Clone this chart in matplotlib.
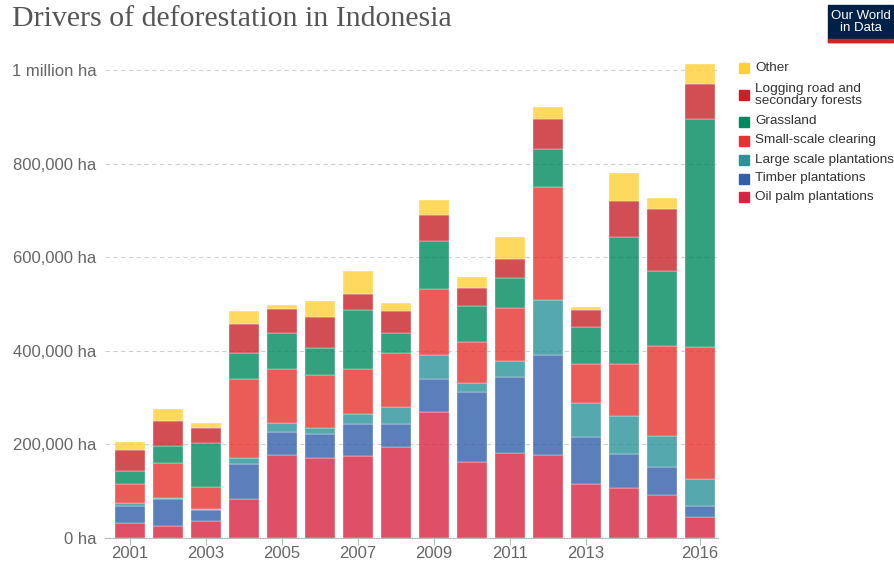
import matplotlib
matplotlib.use("Agg")
import matplotlib.pyplot as plt
from matplotlib.patches import Rectangle
from matplotlib.ticker import FuncFormatter

# Значения в тыс. га (сегменты стопок снизу вверх)
years = list(range(2001, 2017))
oil_palm = [32, 25, 36, 83, 177, 170, 175, 194, 269, 163, 181, 177, 116, 107, 92, 45]
timber = [36, 58, 23, 75, 50, 52, 68, 50, 70, 148, 163, 214, 100, 73, 59, 24]
large_scale = [7, 2, 4, 12, 19, 14, 22, 36, 53, 21, 34, 118, 72, 80, 67, 57]
small_scale = [41, 75, 47, 169, 115, 112, 96, 116, 140, 87, 114, 240, 83, 112, 193, 282]
grassland = [28, 36, 92, 56, 77, 58, 126, 43, 102, 77, 63, 83, 79, 271, 159, 488]
logging = [43, 54, 33, 62, 51, 66, 35, 47, 57, 39, 41, 63, 37, 76, 134, 74]
other = [18, 25, 11, 28, 9, 34, 48, 16, 32, 22, 47, 26, 6, 61, 23, 42]

series = [
    ("Oil palm plantations", oil_palm, "#D72440"),
    ("Timber plantations", timber, "#325FAA"),
    ("Large scale plantations", large_scale, "#2B929A"),
    ("Small-scale clearing", small_scale, "#E7322D"),
    ("Grassland", grassland, "#00885E"),
    ("Logging road and\nsecondary forests", logging, "#C82227"),
    ("Other", other, "#FFD036"),
]

xtick_years = [2001, 2003, 2005, 2007, 2009, 2011, 2013, 2016]
yticks = [0, 200000, 400000, 600000, 800000, 1000000]

W, H = 894, 564
fig = plt.figure(figsize=(W / 100, H / 100), dpi=100)
ax = fig.add_axes([105 / W, 1 - 538 / H, 613 / W, 480 / H])

bottom = [0] * len(years)
for name, vals, color in series:
    ha_vals = [v * 1000 for v in vals]
    ax.bar(years, ha_vals, width=0.8, bottom=bottom, color=color, alpha=0.8,
           edgecolor="white", linewidth=0.3, zorder=3)
    bottom = [b + v for b, v in zip(bottom, ha_vals)]

ax.set_xlim(2001 - 0.66, 2016 + 0.47)
ax.set_ylim(0, 1025600)

ax.set_yticks(yticks)
ax.yaxis.set_major_formatter(FuncFormatter(
    lambda v, _: "1 million ha" if v >= 1e6 else f"{int(v):,} ha"))
ax.set_xticks(xtick_years)
ax.set_xticklabels([str(y) for y in xtick_years])

ax.grid(axis="y", color="#d0d0d0", linestyle=(0, (4, 3)), linewidth=0.8, zorder=0)
for s in ["top", "right", "left"]:
    ax.spines[s].set_visible(False)
ax.spines["bottom"].set_color("#bbbbbb")
ax.tick_params(axis="y", length=0, pad=6, labelsize=12, labelcolor="#666666")
ax.tick_params(axis="x", length=5, color="#bbbbbb", pad=1, labelsize=12, labelcolor="#666666")
for lab in ax.get_xticklabels() + ax.get_yticklabels():
    lab.set_fontfamily("Liberation Sans")

# Заголовок
fig.text(12 / W, 1 - 19 / H, "Drivers of deforestation in Indonesia", fontsize=21.5,
         family="Liberation Serif", color="#555555", va="center", ha="left")

# Логотип OWID
fig.patches.append(Rectangle((828 / W, 1 - 42 / H), 65 / W, 37 / H,
                             transform=fig.transFigure, color="#002147"))
fig.patches.append(Rectangle((828 / W, 1 - 42 / H), 65 / W, 3 / H,
                             transform=fig.transFigure, color="#CE261E"))
fig.text(860.5 / W, 1 - 22 / H, "Our World\nin Data", fontsize=9.5, color="white",
         ha="center", va="center", linespacing=0.95, family="Liberation Sans")

# Легенда справа
legend_rows = [
    ("Other", 68),
    ("Logging road and\nsecondary forests", 95),
    ("Grassland", 121.5),
    ("Small-scale clearing", 140.5),
    ("Large scale plantations", 159.5),
    ("Timber plantations", 178.5),
    ("Oil palm plantations", 197),
]
colors = {name: c for name, _, c in series}
for name, yc in legend_rows:
    fig.patches.append(Rectangle((739 / W, 1 - (yc + 5) / H), 10 / W, 10 / H,
                                 transform=fig.transFigure, color=colors[name]))
    fig.text(755 / W, 1 - yc / H, name, fontsize=9.7, color="#333333",
             va="center", ha="left", linespacing=1.05, family="Liberation Sans")

fig.savefig("out.png", dpi=100)
